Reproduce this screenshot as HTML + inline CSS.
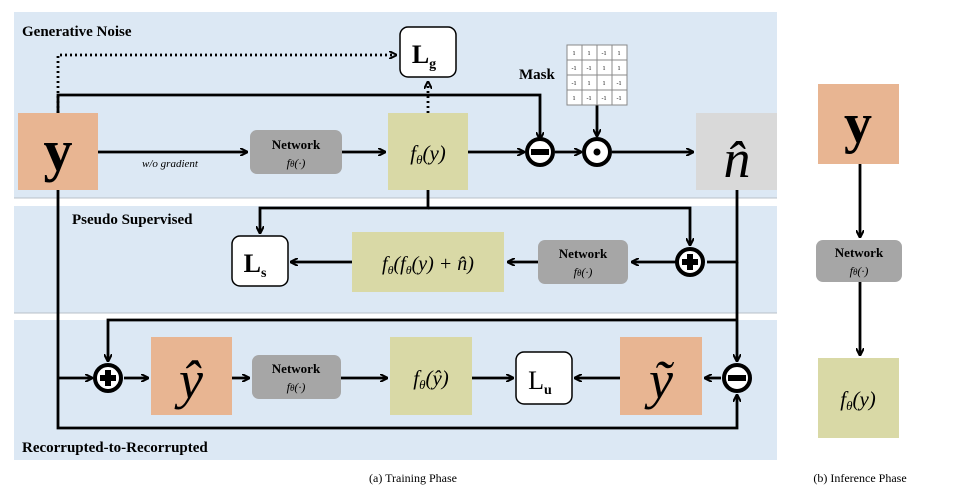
<!DOCTYPE html>
<html><head><meta charset="utf-8"><style>
body{margin:0;background:#fff;width:961px;height:499px;overflow:hidden}
text{font-family:"Liberation Serif",serif}
</style></head><body>
<svg width="961" height="499" viewBox="0 0 961 499" xmlns="http://www.w3.org/2000/svg">
<defs>
<marker id="a" markerWidth="8" markerHeight="8" refX="7" refY="4" orient="auto" markerUnits="userSpaceOnUse"><path d="M0,0 L8,4 L0,8" fill="none" stroke="#000" stroke-width="2"/></marker>
</defs>
<g>
<rect x="14" y="12" width="763" height="186" fill="#dce8f4"/>
<line x1="14" y1="198" x2="777" y2="198" stroke="#b8c0c8"/>
<rect x="14" y="206" width="763" height="107" fill="#dce8f4"/>
<line x1="14" y1="313" x2="777" y2="313" stroke="#b8c0c8"/>
<rect x="14" y="320" width="763" height="140" fill="#dce8f4"/>
</g>
<text x="22" y="36" font-size="15" font-weight="bold">Generative Noise</text>
<text x="72" y="224" font-size="15" font-weight="bold">Pseudo Supervised</text>
<text x="22" y="452" font-size="15" font-weight="bold">Recorrupted-to-Recorrupted</text>

<g fill="none" stroke="#000" stroke-width="2.8">
<path d="M58,113 V55 H396" stroke-dasharray="2,3" marker-end="url(#a)"/>
<path d="M428,113 V82" stroke-dasharray="2,3" marker-end="url(#a)"/>
<path d="M58,113 V95 H540 V139" marker-end="url(#a)"/>
<path d="M98,152 H247" marker-end="url(#a)"/>
<path d="M342,152 H385" marker-end="url(#a)"/>
<path d="M468,152 H524" marker-end="url(#a)"/>
<path d="M555,152 H581" marker-end="url(#a)"/>
<path d="M612,152 H693" marker-end="url(#a)"/>
<path d="M597,105 V136" marker-end="url(#a)"/>
<path d="M428,190 V208 H260 V233" marker-end="url(#a)"/>
<path d="M428,208 H690 V245" marker-end="url(#a)"/>
<path d="M737,190 V262 H707"/>
<path d="M737,262 V361" marker-end="url(#a)"/>
<path d="M737,320 H108 V361" marker-end="url(#a)"/>
<path d="M676,262 H632" marker-end="url(#a)"/>
<path d="M538,262 H508" marker-end="url(#a)"/>
<path d="M352,262 H291" marker-end="url(#a)"/>
<path d="M58,190 V428 H737 V395" marker-end="url(#a)"/>
<path d="M58,378 H92" marker-end="url(#a)"/>
<path d="M124,378 H148" marker-end="url(#a)"/>
<path d="M232,378 H249" marker-end="url(#a)"/>
<path d="M341,378 H387" marker-end="url(#a)"/>
<path d="M472,378 H513" marker-end="url(#a)"/>
<path d="M620,378 H575" marker-end="url(#a)"/>
<path d="M721,378 H705" marker-end="url(#a)"/>
<path d="M860,164 V237" marker-end="url(#a)"/>
<path d="M860,282 V355" marker-end="url(#a)"/>
</g>

<g><rect x="18" y="113" width="80" height="77" fill="#e8b592"/><text x="58" y="170" font-size="58" font-weight="bold" text-anchor="middle">y</text></g>
<text x="170" y="167" font-size="11" font-style="italic" text-anchor="middle">w/o gradient</text>
<g><rect x="250" y="130" width="92" height="44" rx="7" fill="#a6a6a6"/><text x="296" y="149" font-size="13" font-weight="bold" text-anchor="middle">Network</text><text x="296" y="167" font-size="12" font-style="italic" text-anchor="middle">f<tspan font-size="9">θ</tspan>(·)</text></g>
<g><rect x="388" y="113" width="80" height="77" fill="#d9d9a6"/><text x="428" y="160" font-size="21" font-style="italic" text-anchor="middle">f<tspan font-size="13" dy="4">θ</tspan><tspan dy="-4">(y)</tspan></text></g>
<g><rect x="400" y="27" width="56" height="50" rx="8" fill="#fff" stroke="#000" stroke-width="1.5"/><text x="424" y="63" font-size="26" font-weight="bold" text-anchor="middle">L<tspan font-size="14" dy="5">g</tspan></text></g>
<text x="519" y="79" font-size="15" font-weight="bold">Mask</text>
<g font-size="6" text-anchor="middle">
<rect x="567" y="45" width="60" height="60" fill="#fff" stroke="#888"/>
<path d="M582,45V105M597,45V105M612,45V105M567,60H627M567,75H627M567,90H627" stroke="#888" fill="none"/>
<text x="574" y="55">1</text><text x="589" y="55">1</text><text x="604" y="55">-1</text><text x="619" y="55">1</text>
<text x="574" y="70">-1</text><text x="589" y="70">-1</text><text x="604" y="70">1</text><text x="619" y="70">1</text>
<text x="574" y="85">-1</text><text x="589" y="85">1</text><text x="604" y="85">1</text><text x="619" y="85">-1</text>
<text x="574" y="100">1</text><text x="589" y="100">-1</text><text x="604" y="100">-1</text><text x="619" y="100">-1</text>
</g>
<g><circle cx="540" cy="152" r="13" fill="#fff" stroke="#000" stroke-width="4"/><rect x="531" y="149" width="18" height="6" fill="#000"/></g>
<g><circle cx="597" cy="152" r="13" fill="#fff" stroke="#000" stroke-width="4"/><circle cx="597" cy="152" r="3.5" fill="#000"/></g>
<g><rect x="696" y="113" width="81" height="77" fill="#d9d9d9"/><text x="737" y="177" font-size="54" font-style="italic" text-anchor="middle">n̂</text></g>

<g><rect x="232" y="236" width="56" height="50" rx="8" fill="#fff" stroke="#000" stroke-width="1.5"/><text x="255" y="272" font-size="26" font-weight="bold" text-anchor="middle">L<tspan font-size="14" dy="5">s</tspan></text></g>
<g><rect x="352" y="232" width="152" height="60" fill="#d9d9a6"/><text x="428" y="270" font-size="20" font-style="italic" text-anchor="middle">f<tspan font-size="12" dy="4">θ</tspan><tspan dy="-4">(f</tspan><tspan font-size="12" dy="4">θ</tspan><tspan dy="-4">(y) + n̂)</tspan></text></g>
<g><rect x="538" y="240" width="90" height="44" rx="7" fill="#a6a6a6"/><text x="583" y="258" font-size="13" font-weight="bold" text-anchor="middle">Network</text><text x="583" y="276" font-size="12" font-style="italic" text-anchor="middle">f<tspan font-size="9">θ</tspan>(·)</text></g>
<g><circle cx="690" cy="262" r="13" fill="#fff" stroke="#000" stroke-width="4"/><rect x="682" y="259" width="16" height="6" fill="#000"/><rect x="687" y="254" width="6" height="16" fill="#000"/></g>

<g><circle cx="108" cy="378" r="13" fill="#fff" stroke="#000" stroke-width="4"/><rect x="100" y="375" width="16" height="6" fill="#000"/><rect x="105" y="370" width="6" height="16" fill="#000"/></g>
<g><rect x="151" y="337" width="81" height="78" fill="#e8b592"/><text x="191" y="398" font-size="54" font-style="italic" text-anchor="middle">ŷ</text></g>
<g><rect x="252" y="355" width="89" height="44" rx="7" fill="#a6a6a6"/><text x="296" y="373" font-size="13" font-weight="bold" text-anchor="middle">Network</text><text x="296" y="391" font-size="12" font-style="italic" text-anchor="middle">f<tspan font-size="9">θ</tspan>(·)</text></g>
<g><rect x="390" y="337" width="82" height="78" fill="#d9d9a6"/><text x="431" y="385" font-size="21" font-style="italic" text-anchor="middle">f<tspan font-size="13" dy="4">θ</tspan><tspan dy="-4">(ŷ)</tspan></text></g>
<g><rect x="516" y="352" width="56" height="52" rx="8" fill="#fff" stroke="#000" stroke-width="1.5"/><text x="540" y="389" font-size="26" text-anchor="middle">L<tspan font-size="14" font-weight="bold" dy="5">u</tspan></text></g>
<g><rect x="620" y="337" width="82" height="78" fill="#e8b592"/><text x="661" y="398" font-size="54" font-style="italic" text-anchor="middle">ỹ</text></g>
<g><circle cx="737" cy="378" r="13" fill="#fff" stroke="#000" stroke-width="4"/><rect x="728" y="375" width="18" height="6" fill="#000"/></g>

<text x="413" y="482" font-size="12" text-anchor="middle">(a) Training Phase</text>

<g><rect x="818" y="84" width="81" height="80" fill="#e8b592"/><text x="858" y="142" font-size="56" font-weight="bold" text-anchor="middle">y</text></g>
<g><rect x="816" y="240" width="86" height="42" rx="7" fill="#a6a6a6"/><text x="859" y="257" font-size="13" font-weight="bold" text-anchor="middle">Network</text><text x="859" y="275" font-size="12" font-style="italic" text-anchor="middle">f<tspan font-size="9">θ</tspan>(·)</text></g>
<g><rect x="818" y="358" width="81" height="80" fill="#d9d9a6"/><text x="858" y="406" font-size="21" font-style="italic" text-anchor="middle">f<tspan font-size="13" dy="4">θ</tspan><tspan dy="-4">(y)</tspan></text></g>
<text x="860" y="482" font-size="12" text-anchor="middle">(b) Inference Phase</text>
</svg>
</body></html>
